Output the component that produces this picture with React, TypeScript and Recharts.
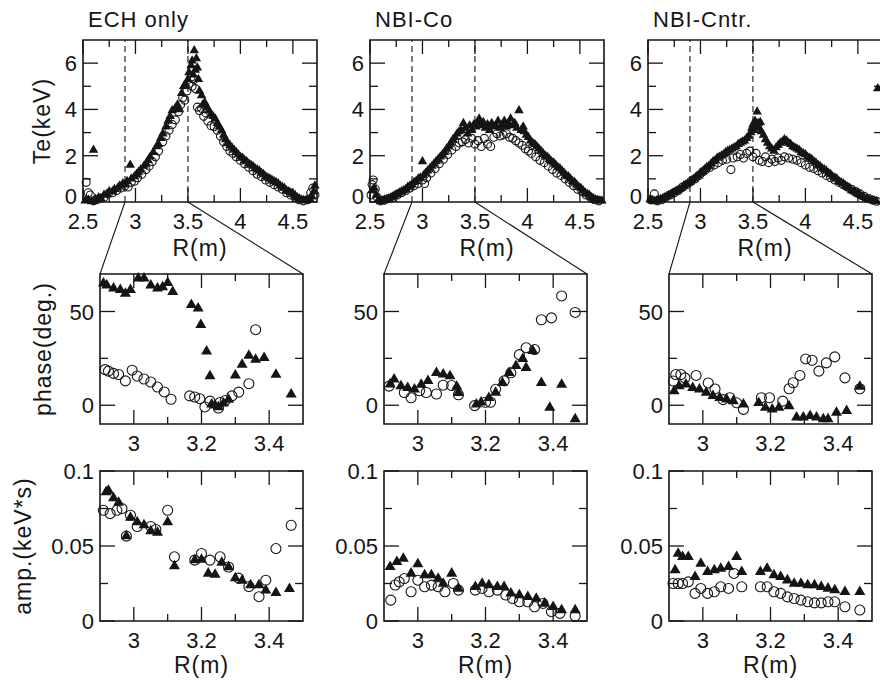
import { ReferenceArea, ReferenceLine, Scatter, ScatterChart, XAxis, YAxis } from 'recharts'

type Pt = [number, number]
type Box = { left: number; top: number; w: number; h: number }

// R(m) vs Te(keV), top row
const echTeTri: Pt[] = [
  [2.52, 0.05], [2.55, 0.1], [2.58, 0.02], [2.6, 2.25], [2.62, 0.12], [2.65, 0.2], [2.67, 0.15], [2.7, 0.3],
  [2.73, 0.35], [2.75, 0.45], [2.78, 0.45], [2.8, 0.55], [2.83, 0.6], [2.85, 0.7], [2.88, 0.8], [2.9, 0.75],
  [2.92, 0.9], [2.95, 1.6], [2.96, 1.0], [2.99, 1.1], [3.01, 1.2], [3.03, 1.3], [3.05, 1.4], [3.08, 1.55],
  [3.1, 1.65], [3.12, 1.8], [3.14, 1.95], [3.17, 2.15], [3.2, 2.4], [3.22, 2.5], [3.24, 2.75], [3.26, 2.95],
  [3.29, 3.25], [3.31, 3.5], [3.33, 3.7], [3.35, 3.95], [3.38, 4.05], [3.4, 4.2], [3.42, 4.0], [3.44, 4.7],
  [3.46, 5.0], [3.48, 5.1], [3.5, 5.3], [3.51, 5.6], [3.53, 5.9], [3.54, 6.1], [3.55, 5.5], [3.56, 6.55],
  [3.57, 5.7], [3.58, 6.2], [3.59, 5.8], [3.6, 5.3], [3.61, 4.8], [3.63, 4.6], [3.64, 4.2], [3.66, 4.3],
  [3.68, 4.1], [3.7, 3.95], [3.72, 3.8], [3.74, 3.7], [3.76, 3.6], [3.78, 3.4], [3.8, 3.25], [3.82, 3.1],
  [3.84, 2.9], [3.86, 2.7], [3.88, 2.55], [3.9, 2.45], [3.92, 2.35], [3.94, 2.25], [3.96, 2.15], [3.98, 2.05],
  [4.0, 1.95], [4.02, 1.9], [4.04, 1.8], [4.06, 1.75], [4.08, 1.65], [4.1, 1.6], [4.12, 1.55], [4.14, 1.45],
  [4.16, 1.4], [4.18, 1.35], [4.2, 1.25], [4.22, 1.2], [4.24, 1.1], [4.26, 1.05], [4.28, 1.0], [4.3, 0.95],
  [4.32, 0.9], [4.34, 0.85], [4.36, 0.8], [4.38, 0.7], [4.4, 0.65], [4.42, 0.6], [4.44, 0.5], [4.46, 0.45],
  [4.48, 0.4], [4.5, 0.35], [4.52, 0.3], [4.54, 0.2], [4.56, 0.15], [4.58, 0.1], [4.6, 0.08], [4.62, 0.05],
  [4.64, 0.1], [4.66, 0.15], [4.68, 0.25], [4.7, 0.45], [4.71, 0.7],
]
const echTeCirc: Pt[] = [
  [2.53, 0.85], [2.55, 0.4], [2.57, 0.3], [2.6, 0.05], [2.63, 0.1], [2.66, 0.15], [2.7, 0.2], [2.74, 0.35],
  [2.78, 0.4], [2.82, 0.5], [2.86, 0.6], [2.9, 0.7], [2.93, 0.65], [2.96, 0.85], [2.99, 0.9], [3.02, 1.05],
  [3.06, 1.2], [3.1, 1.4], [3.13, 1.55], [3.16, 1.75], [3.19, 1.95], [3.22, 2.2], [3.26, 2.6], [3.29, 2.85],
  [3.32, 3.1], [3.35, 3.35], [3.38, 3.55], [3.41, 3.9], [3.43, 4.2], [3.45, 4.5], [3.47, 4.4], [3.49, 4.8],
  [3.51, 5.1], [3.53, 5.4], [3.54, 5.0], [3.56, 5.3], [3.57, 4.9], [3.59, 4.1], [3.61, 3.95], [3.63, 4.05],
  [3.65, 3.7], [3.67, 3.85], [3.69, 3.5], [3.72, 3.3], [3.75, 3.25], [3.78, 3.1], [3.81, 2.85], [3.84, 2.6],
  [3.87, 2.4], [3.9, 2.2], [3.93, 2.1], [3.96, 1.95], [4.0, 1.8], [4.04, 1.65], [4.08, 1.5], [4.12, 1.35],
  [4.16, 1.2], [4.2, 1.1], [4.24, 0.95], [4.28, 0.85], [4.32, 0.75], [4.36, 0.65], [4.4, 0.55], [4.44, 0.4],
  [4.48, 0.3], [4.52, 0.2], [4.56, 0.1], [4.6, 0.05], [4.64, 0.1], [4.67, 0.4], [4.69, 0.6], [4.71, 0.3],
]
const coTeTri: Pt[] = [
  [2.52, 0.5], [2.54, 0.6], [2.56, 0.3], [2.58, 0.1], [2.6, 0.02], [2.62, 0.05], [2.64, 0.1], [2.66, 0.12],
  [2.68, 0.15], [2.7, 0.2], [2.72, 0.25], [2.74, 0.3], [2.76, 0.35], [2.78, 0.4], [2.8, 0.45], [2.82, 0.5],
  [2.84, 0.55], [2.86, 0.65], [2.88, 0.7], [2.9, 0.75], [2.92, 0.85], [2.94, 0.9], [2.96, 1.0], [2.98, 1.05],
  [3.0, 1.75], [3.01, 1.15], [3.03, 1.25], [3.05, 1.35], [3.07, 1.45], [3.09, 1.55], [3.11, 1.65], [3.13, 1.75],
  [3.15, 1.85], [3.17, 1.95], [3.19, 2.05], [3.21, 2.15], [3.23, 2.3], [3.25, 2.4], [3.27, 2.55], [3.29, 2.7],
  [3.31, 2.8], [3.33, 2.95], [3.35, 3.05], [3.37, 3.1], [3.39, 3.4], [3.41, 3.2], [3.43, 2.95], [3.45, 3.3],
  [3.47, 3.1], [3.49, 3.35], [3.51, 3.25], [3.53, 3.45], [3.54, 3.6], [3.56, 3.3], [3.58, 3.45], [3.6, 3.2],
  [3.62, 3.35], [3.64, 3.1], [3.66, 3.4], [3.68, 3.25], [3.7, 3.3], [3.72, 3.5], [3.74, 3.2], [3.76, 3.35],
  [3.78, 3.5], [3.8, 3.25], [3.82, 3.4], [3.84, 3.6], [3.86, 3.3], [3.88, 3.4], [3.9, 3.2], [3.92, 3.95],
  [3.94, 3.1], [3.96, 3.25], [3.97, 3.05], [3.99, 2.9], [4.01, 2.8], [4.03, 2.65], [4.05, 2.55], [4.07, 2.5],
  [4.09, 2.4], [4.11, 2.3], [4.13, 2.2], [4.15, 2.1], [4.17, 2.0], [4.19, 1.95], [4.21, 1.85], [4.23, 1.75],
  [4.25, 1.7], [4.27, 1.6], [4.29, 1.5], [4.31, 1.45], [4.33, 1.35], [4.35, 1.25], [4.37, 1.15], [4.39, 1.1],
  [4.41, 1.0], [4.43, 0.9], [4.45, 0.85], [4.47, 0.75], [4.49, 0.65], [4.51, 0.6], [4.53, 0.5], [4.55, 0.4],
  [4.57, 0.35], [4.59, 0.3], [4.61, 0.2], [4.63, 0.15], [4.65, 0.1], [4.67, 0.08], [4.69, 0.05], [4.71, 0.05],
]
const coTeCirc: Pt[] = [
  [2.51, 0.3], [2.52, 0.75], [2.53, 0.95], [2.55, 0.55], [2.57, 0.2], [2.6, 0.05], [2.64, 0.08], [2.68, 0.15],
  [2.72, 0.2], [2.76, 0.3], [2.8, 0.4], [2.84, 0.5], [2.88, 0.6], [2.92, 0.7], [2.96, 0.8], [3.0, 0.95],
  [3.02, 0.8], [3.04, 1.05], [3.08, 1.25], [3.12, 1.45], [3.16, 1.65], [3.2, 1.85], [3.24, 2.05], [3.28, 2.25],
  [3.32, 2.4], [3.35, 2.55], [3.38, 2.6], [3.41, 2.7], [3.44, 2.55], [3.47, 2.75], [3.5, 2.5], [3.53, 2.65],
  [3.56, 2.4], [3.59, 2.75], [3.62, 2.5], [3.65, 2.4], [3.68, 2.8], [3.71, 2.95], [3.74, 2.85], [3.77, 2.9],
  [3.8, 2.95], [3.83, 2.8], [3.86, 2.75], [3.89, 2.65], [3.92, 2.55], [3.95, 2.45], [3.98, 2.3], [4.01, 2.2],
  [4.04, 2.1], [4.08, 1.95], [4.12, 1.8], [4.16, 1.7], [4.2, 1.55], [4.24, 1.4], [4.28, 1.25], [4.32, 1.15],
  [4.36, 1.0], [4.4, 0.85], [4.44, 0.7], [4.48, 0.55], [4.52, 0.45], [4.56, 0.3], [4.6, 0.2], [4.64, 0.1],
  [4.68, 0.05],
]
const cntrTeTri: Pt[] = [
  [2.52, 0.1], [2.54, 0.05], [2.56, 0.02], [2.58, 0.05], [2.6, 0.1], [2.62, 0.12], [2.64, 0.15], [2.66, 0.2],
  [2.68, 0.25], [2.7, 0.3], [2.72, 0.35], [2.74, 0.4], [2.76, 0.45], [2.78, 0.5], [2.8, 0.55], [2.82, 0.6],
  [2.84, 0.7], [2.86, 0.75], [2.88, 0.8], [2.9, 0.85], [2.92, 0.95], [2.94, 1.0], [2.96, 1.1], [2.98, 1.15],
  [3.0, 1.25], [3.02, 1.3], [3.04, 1.4], [3.06, 1.5], [3.08, 1.55], [3.1, 1.65], [3.12, 1.75], [3.14, 1.8],
  [3.16, 1.9], [3.18, 1.95], [3.2, 2.0], [3.22, 2.05], [3.24, 2.15], [3.26, 2.2], [3.28, 2.25], [3.3, 2.3],
  [3.32, 2.35], [3.34, 2.4], [3.36, 2.5], [3.38, 2.55], [3.4, 2.6], [3.42, 2.65], [3.44, 2.75], [3.46, 2.85],
  [3.48, 3.0], [3.49, 3.2], [3.5, 3.35], [3.51, 3.1], [3.52, 3.5], [3.53, 3.3], [3.54, 3.9], [3.55, 3.4],
  [3.56, 3.2], [3.57, 3.45], [3.58, 3.05], [3.6, 2.9], [3.62, 2.7], [3.64, 2.55], [3.66, 2.4], [3.68, 2.3],
  [3.7, 2.2], [3.72, 2.35], [3.74, 2.45], [3.76, 2.55], [3.78, 2.6], [3.8, 2.7], [3.82, 2.65], [3.84, 2.55],
  [3.86, 2.5], [3.88, 2.4], [3.9, 2.35], [3.92, 2.3], [3.94, 2.25], [3.96, 2.15], [3.98, 2.1], [4.0, 2.05],
  [4.02, 1.95], [4.04, 1.9], [4.06, 1.85], [4.08, 1.75], [4.1, 1.7], [4.12, 1.6], [4.14, 1.55], [4.16, 1.45],
  [4.18, 1.4], [4.2, 1.35], [4.22, 1.25], [4.24, 1.2], [4.26, 1.1], [4.28, 1.05], [4.3, 1.0], [4.32, 0.9],
  [4.34, 0.85], [4.36, 0.8], [4.38, 0.7], [4.4, 0.65], [4.42, 0.6], [4.44, 0.5], [4.46, 0.45], [4.48, 0.4],
  [4.5, 0.35], [4.52, 0.3], [4.54, 0.25], [4.56, 0.2], [4.58, 0.15], [4.6, 0.12], [4.62, 0.1], [4.64, 0.06],
  [4.66, 0.04], [4.68, 0.02], [4.69, 4.9],
]
const cntrTeCirc: Pt[] = [
  [2.53, 0.1], [2.56, 0.35], [2.59, 0.05], [2.63, 0.1], [2.67, 0.2], [2.71, 0.3], [2.75, 0.4], [2.79, 0.5],
  [2.83, 0.65], [2.87, 0.75], [2.91, 0.9], [2.95, 1.0], [2.99, 1.15], [3.02, 1.3], [3.05, 1.4], [3.09, 1.5],
  [3.13, 1.6], [3.17, 1.7], [3.21, 1.8], [3.25, 1.85], [3.29, 1.4], [3.31, 1.9], [3.35, 1.95], [3.38, 2.05],
  [3.41, 1.9], [3.44, 2.1], [3.47, 2.2], [3.5, 1.95], [3.53, 2.1], [3.56, 1.8], [3.59, 1.75], [3.62, 1.95],
  [3.65, 1.7], [3.68, 1.85], [3.71, 1.75], [3.74, 1.9], [3.77, 1.8], [3.8, 1.95], [3.84, 1.9], [3.88, 1.85],
  [3.92, 1.8], [3.96, 1.7], [4.0, 1.6], [4.04, 1.5], [4.08, 1.45], [4.12, 1.35], [4.16, 1.25], [4.2, 1.15],
  [4.24, 1.05], [4.28, 0.95], [4.32, 0.85], [4.36, 0.75], [4.4, 0.65], [4.44, 0.55], [4.48, 0.45], [4.52, 0.35],
  [4.56, 0.25], [4.6, 0.15], [4.64, 0.08], [4.68, 0.03],
]

// R(m) vs phase(deg.), middle row
const echPhTri: Pt[] = [
  [2.91, 65], [2.92, 64], [2.94, 62.3], [2.96, 61.5], [2.975, 59.5], [2.99, 61.5], [3.013, 67.7], [3.03, 67.7],
  [3.05, 64], [3.07, 62.3], [3.085, 63], [3.1, 65.3], [3.115, 60.5], [3.17, 53.5], [3.19, 51.7], [3.198, 42.9],
  [3.215, 28.8], [3.225, 15.5], [3.23, 0.5], [3.24, 0], [3.25, -1], [3.265, 1], [3.28, 3], [3.3, 15.9],
  [3.32, 21.7], [3.34, 26.5], [3.36, 24.4], [3.385, 25.3], [3.42, 16.4], [3.465, 5.8],
]
const echPhCirc: Pt[] = [
  [2.915, 19], [2.925, 18.2], [2.94, 17], [2.955, 16.4], [2.975, 13], [2.995, 18.7], [3.01, 15.6], [3.03, 14],
  [3.05, 12.4], [3.07, 9.7], [3.09, 7.1], [3.11, 3.2], [3.165, 5], [3.18, 4.4], [3.195, 3.5], [3.21, -0.9],
  [3.225, 2.2], [3.25, -1.5], [3.255, 1.5], [3.27, 2.5], [3.29, 5], [3.31, 7], [3.34, 11.5], [3.36, 40.3],
]
const coPhTri: Pt[] = [
  [2.918, 11.1], [2.93, 13.8], [2.95, 10.2], [2.97, 9.3], [2.99, 8.5], [3.01, 11], [3.03, 13], [3.055, 17.3],
  [3.075, 16.5], [3.095, 15.5], [3.115, 10], [3.12, 6.6], [3.173, 0.5], [3.187, 1.5], [3.21, 4], [3.23, 6.8],
  [3.25, 12], [3.27, 17.3], [3.29, 21], [3.31, 24.7], [3.32, 20], [3.34, 29], [3.365, 12], [3.39, -1.2],
  [3.425, 11], [3.465, -7.4],
]
const coPhCirc: Pt[] = [
  [2.915, 10.2], [2.96, 6.8], [2.98, 4], [3.005, 7.7], [3.025, 6.8], [3.055, 6], [3.075, 10.7], [3.1, 10.5],
  [3.12, 5.6], [3.168, -0.2], [3.2, 1.6], [3.215, 1.6], [3.23, 8.5], [3.255, 13], [3.275, 17.3], [3.3, 27],
  [3.32, 30.7], [3.345, 29.7], [3.365, 45.6], [3.395, 46.6], [3.425, 58.3], [3.465, 49.5],
]
const cntrPhTri: Pt[] = [
  [2.915, 7.6], [2.93, 10.2], [2.95, 11.1], [2.97, 9.3], [2.99, 8.5], [3.01, 6.8], [3.03, 5], [3.05, 4],
  [3.07, 3.2], [3.09, 2.2], [3.12, 0.5], [3.165, 1.3], [3.185, -1.3], [3.205, -2.2], [3.225, -1.3], [3.255, -0.5],
  [3.277, -6.5], [3.297, -6.5], [3.317, -5.6], [3.336, -6.5], [3.356, -7.4], [3.37, -7.4], [3.395, -3.9],
  [3.425, -3], [3.464, 10],
]
const cntrPhCirc: Pt[] = [
  [2.913, 12.9], [2.92, 16.4], [2.935, 16.4], [2.947, 14.6], [2.98, 15.9], [3.016, 11.9], [3.036, 8.7], [3.06, 3],
  [3.08, 4], [3.1, 1.3], [3.12, -2.2], [3.173, 4], [3.197, 4], [3.236, 2.2], [3.255, 8.8], [3.267, 12],
  [3.287, 15.9], [3.304, 24.7], [3.323, 24], [3.343, 18.2], [3.365, 22.6], [3.39, 25.8], [3.42, 14.6], [3.464, 8.8],
]

// R(m) vs amp.(keV*s), bottom row
const echAmpTri: Pt[] = [
  [2.918, 0.086], [2.925, 0.087], [2.94, 0.082], [2.955, 0.079], [2.978, 0.0566], [2.99, 0.069], [3.01, 0.066],
  [3.03, 0.064], [3.05, 0.06], [3.07, 0.059], [3.1, 0.066], [3.12, 0.0366], [3.18, 0.0406], [3.2, 0.041],
  [3.22, 0.0317], [3.24, 0.031], [3.26, 0.039], [3.28, 0.036], [3.3, 0.0286], [3.32, 0.027], [3.345, 0.024],
  [3.37, 0.024], [3.39, 0.0205], [3.42, 0.0188], [3.46, 0.0215],
]
const echAmpCirc: Pt[] = [
  [2.91, 0.0738], [2.93, 0.0716], [2.95, 0.0738], [2.965, 0.075], [2.978, 0.0566], [2.99, 0.0705], [3.01, 0.063],
  [3.05, 0.063], [3.065, 0.061], [3.1, 0.0738], [3.12, 0.0428], [3.18, 0.0406], [3.2, 0.045], [3.225, 0.0406],
  [3.255, 0.0428], [3.28, 0.036], [3.31, 0.0286], [3.34, 0.023], [3.37, 0.0162], [3.39, 0.0272], [3.42, 0.0483],
  [3.465, 0.0638],
]
const coAmpTri: Pt[] = [
  [2.918, 0.0361], [2.938, 0.0394], [2.957, 0.0416], [2.98, 0.0317], [3.0, 0.038], [3.02, 0.0306], [3.04, 0.0306],
  [3.06, 0.0283], [3.075, 0.025], [3.1, 0.0317], [3.12, 0.0217], [3.17, 0.0228], [3.19, 0.025], [3.21, 0.0239],
  [3.235, 0.0228], [3.255, 0.0228], [3.275, 0.0184], [3.3, 0.0173], [3.325, 0.0161], [3.35, 0.015],
  [3.375, 0.0117], [3.4, 0.0095], [3.425, 0.0073], [3.465, 0.0073],
]
const coAmpCirc: Pt[] = [
  [2.92, 0.0139], [2.933, 0.024], [2.945, 0.0261], [2.96, 0.0283], [2.98, 0.0195], [3.0, 0.0272], [3.02, 0.0228],
  [3.04, 0.0239], [3.06, 0.0228], [3.08, 0.0195], [3.105, 0.025], [3.12, 0.0206], [3.17, 0.0206], [3.19, 0.0217],
  [3.21, 0.0195], [3.235, 0.0206], [3.26, 0.0173], [3.28, 0.015], [3.3, 0.0128], [3.325, 0.0128], [3.345, 0.0095],
  [3.37, 0.0117], [3.395, 0.0062], [3.42, 0.0051], [3.465, 0.0033],
]
const cntrAmpTri: Pt[] = [
  [2.918, 0.0339], [2.927, 0.045], [2.94, 0.0428], [2.957, 0.0428], [2.977, 0.0295], [2.994, 0.0383],
  [3.014, 0.0328], [3.034, 0.0339], [3.053, 0.035], [3.076, 0.0361], [3.1, 0.0428], [3.115, 0.0328],
  [3.17, 0.0328], [3.19, 0.035], [3.21, 0.0306], [3.23, 0.0295], [3.25, 0.0272], [3.27, 0.025], [3.29, 0.025],
  [3.31, 0.0239], [3.33, 0.0239], [3.35, 0.0228], [3.37, 0.0217], [3.39, 0.0206], [3.42, 0.0195], [3.464, 0.0195],
]
const cntrAmpCirc: Pt[] = [
  [2.912, 0.025], [2.927, 0.025], [2.94, 0.025], [2.957, 0.0261], [2.977, 0.0184], [2.994, 0.0217],
  [3.014, 0.0184], [3.034, 0.0195], [3.053, 0.0228], [3.076, 0.0217], [3.092, 0.0317], [3.115, 0.0228],
  [3.17, 0.0228], [3.19, 0.0228], [3.21, 0.0195], [3.23, 0.0184], [3.25, 0.0161], [3.27, 0.015], [3.29, 0.0139],
  [3.31, 0.0128], [3.33, 0.0121], [3.35, 0.0121], [3.37, 0.0128], [3.39, 0.0128], [3.42, 0.0095], [3.464, 0.0073],
]

const titles = ['ECH only', 'NBI-Co', 'NBI-Cntr.']
const teXMajor = [2.5, 3, 3.5, 4, 4.5]
const teXMinor = [2.75, 3.25, 3.75, 4.25]
const teYMajor = [0, 2, 4, 6]
const teYMinor = [1, 3, 5]
const zoomXMajor = [3, 3.2, 3.4]
const zoomXMinor = [3.1, 3.3]
const phYMajor = [0, 50]
const phYMinor = [25]
const ampYMajor = [0, 0.05, 0.1]
const ampYMinor = [0.025, 0.075]
const zoomEdges = [2.9, 3.5]

const FONT = '"Liberation Sans", Arial, sans-serif'
const INK = '#151515'
const PAD_L = 70
const PAD_R = 12
const PAD_T = 12
const PAD_B = 40

const topBoxes: Box[] = [
  { left: 83, top: 40, w: 234, h: 162 },
  { left: 370, top: 40, w: 234, h: 162 },
  { left: 648, top: 40, w: 234, h: 162 },
]
const midBoxes: Box[] = [
  { left: 100, top: 274, w: 203, h: 150 },
  { left: 384, top: 274, w: 203, h: 150 },
  { left: 669, top: 274, w: 203, h: 150 },
]
const botBoxes: Box[] = [
  { left: 100, top: 471, w: 203, h: 150 },
  { left: 384, top: 471, w: 203, h: 150 },
  { left: 669, top: 471, w: 203, h: 150 },
]
const teDomain: [number, number] = [2.5, 4.73]
const zoomDomain: [number, number] = [2.9, 3.5]

const toRows = (pts: Pt[]) => pts.map(([x, y]) => ({ x, y }))

function Panel(props: {
  box: Box
  xDomain: [number, number]
  yDomain: [number, number]
  xMajor: number[]
  xMinor: number[]
  yMajor: number[]
  yMinor: number[]
  tri: Pt[]
  circ: Pt[]
  big?: boolean
  dashed?: number[]
  liftZero?: boolean
}) {
  const { box, xDomain, yDomain, xMajor, xMinor, yMajor, yMinor, tri, circ, big, dashed = [], liftZero } = props
  const s = big ? 11 : 9.5
  const r = big ? 5 : 4
  const xTick = (p: any) => {
    const major = xMajor.includes(p.payload.value)
    const len = major ? 14 : 7
    return (
      <g>
        <line x1={p.x} y1={p.y} x2={p.x} y2={p.y - len} stroke={INK} strokeWidth={1.3} />
        <line x1={p.x} y1={p.y - box.h} x2={p.x} y2={p.y - box.h + len} stroke={INK} strokeWidth={1.3} />
        {major && (
          <text x={p.x} y={p.y + 27} textAnchor='middle' fill={INK} fontSize={22} fontFamily={FONT}>
            {p.payload.value}
          </text>
        )}
      </g>
    )
  }
  const yTick = (p: any) => {
    const major = yMajor.includes(p.payload.value)
    const len = major ? 15 : 8
    // the bottom "0" of the Te panels sits just above the first R label
    const dy = liftZero && p.payload.value === yDomain[0] ? 2 : 8
    return (
      <g>
        <line x1={p.x} y1={p.y} x2={p.x + len} y2={p.y} stroke={INK} strokeWidth={1.3} />
        <line x1={p.x + box.w} y1={p.y} x2={p.x + box.w - len} y2={p.y} stroke={INK} strokeWidth={1.3} />
        {major && (
          <text x={p.x - 6} y={p.y + dy} textAnchor='end' fill={INK} fontSize={22} fontFamily={FONT}>
            {p.payload.value}
          </text>
        )}
      </g>
    )
  }
  const triShape = (p: any) => {
    const h = s * 0.866
    return (
      <path
        d={`M${p.cx},${p.cy - (2 * h) / 3}L${p.cx - s / 2},${p.cy + h / 3}L${p.cx + s / 2},${p.cy + h / 3}Z`}
        fill={INK}
      />
    )
  }
  const circShape = (p: any) => <circle cx={p.cx} cy={p.cy} r={r} fill='none' stroke={INK} strokeWidth={1.1} />
  return (
    <div style={{ position: 'absolute', left: box.left - PAD_L, top: box.top - PAD_T }}>
      <ScatterChart
        width={box.w + PAD_L + PAD_R}
        height={box.h + PAD_T + PAD_B}
        margin={{ top: PAD_T, right: PAD_R, bottom: 0, left: 0 }}
      >
        <XAxis
          type='number'
          dataKey='x'
          domain={xDomain}
          ticks={[...xMajor, ...xMinor].sort((a, b) => a - b)}
          interval={0}
          tick={xTick}
          tickSize={0}
          tickMargin={0}
          tickLine={false}
          axisLine={false}
          height={PAD_B}
        />
        <YAxis
          type='number'
          dataKey='y'
          domain={yDomain}
          ticks={[...yMajor, ...yMinor].sort((a, b) => a - b)}
          interval={0}
          tick={yTick}
          tickSize={0}
          tickMargin={0}
          tickLine={false}
          axisLine={false}
          width={PAD_L}
        />
        <ReferenceArea
          x1={xDomain[0]}
          x2={xDomain[1]}
          y1={yDomain[0]}
          y2={yDomain[1]}
          fill='none'
          stroke={INK}
          strokeWidth={1.6}
          ifOverflow='visible'
        />
        {dashed.map((v) => (
          <ReferenceLine key={v} x={v} stroke={INK} strokeWidth={1.1} strokeDasharray='6 4' />
        ))}
        <Scatter data={toRows(circ)} isAnimationActive={false} shape={circShape} />
        <Scatter data={toRows(tri)} isAnimationActive={false} shape={triShape} />
      </ScatterChart>
    </div>
  )
}

function Label({ x, y, text, size = 23, rotate = false, center = true }: any) {
  return (
    <div
      style={{
        position: 'absolute',
        left: x,
        top: y,
        transform: center ? `translate(-50%, -50%)${rotate ? ' rotate(-90deg)' : ''}` : undefined,
        fontFamily: FONT,
        fontSize: size,
        letterSpacing: 1,
        lineHeight: 1,
        whiteSpace: 'nowrap',
        color: INK,
      }}
    >
      {text}
    </div>
  )
}

const xPix = (box: Box, d: [number, number], v: number) => box.left + ((v - d[0]) / (d[1] - d[0])) * box.w

export default function App() {
  const teSets = [
    [echTeTri, echTeCirc],
    [coTeTri, coTeCirc],
    [cntrTeTri, cntrTeCirc],
  ]
  const phSets = [
    [echPhTri, echPhCirc],
    [coPhTri, coPhCirc],
    [cntrPhTri, cntrPhCirc],
  ]
  const ampSets = [
    [echAmpTri, echAmpCirc],
    [coAmpTri, coAmpCirc],
    [cntrAmpTri, cntrAmpCirc],
  ]
  return (
    <div
      style={{ position: 'absolute', left: 0, top: 0, width: 880, height: 680, overflow: 'hidden', background: '#fff' }}
    >
      {[0, 1, 2].map((i) => (
        <div key={i}>
          <Panel
            box={topBoxes[i]}
            xDomain={teDomain}
            yDomain={[0, 7]}
            xMajor={teXMajor}
            xMinor={teXMinor}
            yMajor={teYMajor}
            yMinor={teYMinor}
            tri={teSets[i][0]}
            circ={teSets[i][1]}
            dashed={zoomEdges}
            liftZero
          />
          <Panel
            box={midBoxes[i]}
            xDomain={zoomDomain}
            yDomain={[-10, 70]}
            xMajor={zoomXMajor}
            xMinor={zoomXMinor}
            yMajor={phYMajor}
            yMinor={phYMinor}
            tri={phSets[i][0]}
            circ={phSets[i][1]}
            big
          />
          <Panel
            box={botBoxes[i]}
            xDomain={zoomDomain}
            yDomain={[0, 0.1]}
            xMajor={zoomXMajor}
            xMinor={zoomXMinor}
            yMajor={ampYMajor}
            yMinor={ampYMinor}
            tri={ampSets[i][0]}
            circ={ampSets[i][1]}
            big
          />
          <Label x={topBoxes[i].left + 5} y={9} text={titles[i]} size={22} center={false} />
          <Label x={topBoxes[i].left + topBoxes[i].w / 2} y={248} text='R(m)' />
          <Label x={botBoxes[i].left + botBoxes[i].w / 2} y={665} text='R(m)' />
        </div>
      ))}
      <Label x={42} y={121} text='Te(keV)' rotate />
      <Label x={43} y={349} text='phase(deg.)' rotate />
      <Label x={23} y={546} text='amp.(keV*s)' rotate />
      <svg width={880} height={680} style={{ position: 'absolute', left: 0, top: 0, pointerEvents: 'none' }}>
        {[0, 1, 2].map((i) => {
          const t = topBoxes[i]
          const m = midBoxes[i]
          const bottom = t.top + t.h
          return (
            <g key={i} stroke={INK} strokeWidth={1.1}>
              <line x1={xPix(t, teDomain, zoomEdges[0])} y1={bottom} x2={m.left} y2={m.top} />
              <line x1={xPix(t, teDomain, zoomEdges[1])} y1={bottom} x2={m.left + m.w} y2={m.top} />
            </g>
          )
        })}
      </svg>
    </div>
  )
}
